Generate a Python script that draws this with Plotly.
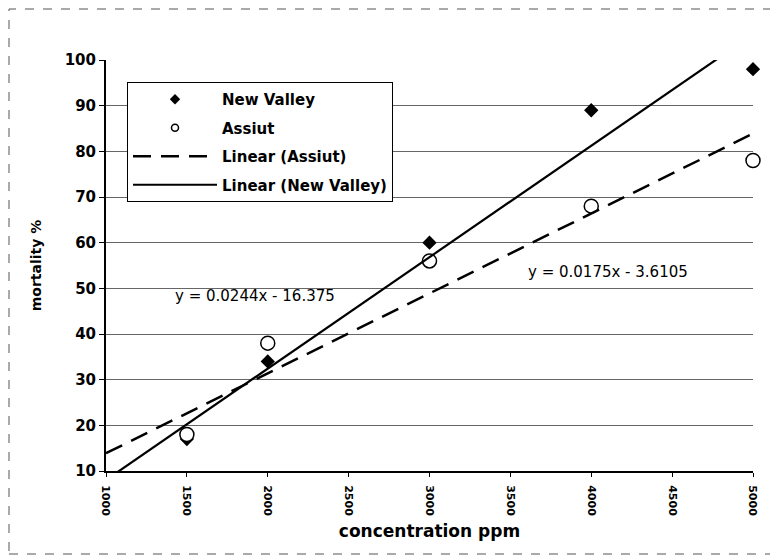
import plotly.graph_objects as go

conc = [1500, 2000, 3000, 4000, 5000]
new_valley = [17, 34, 60, 89, 98]
assiut = [18, 38, 56, 68, 78]

# trendline coefficients (slope, intercept) as printed on the chart
nv_fit = (0.0244, -16.375)
as_fit = (0.0175, -3.6105)
fit_x = [1000, 5000]

x_ticks = [1000, 1500, 2000, 2500, 3000, 3500, 4000, 4500, 5000]
y_ticks = [10, 20, 30, 40, 50, 60, 70, 80, 90, 100]

FONT = "DejaVu Sans"

fig = go.Figure()
# data traces (legend shown via small-marker proxies below)
fig.add_trace(go.Scatter(
    x=conc, y=new_valley, mode="markers", showlegend=False,
    marker=dict(symbol="diamond", size=11, color="black"), cliponaxis=False))
fig.add_trace(go.Scatter(
    x=conc, y=assiut, mode="markers", showlegend=False,
    marker=dict(symbol="circle", size=14, color="white", line=dict(color="black", width=1.5)),
    cliponaxis=False))
fig.add_trace(go.Scatter(
    x=fit_x, y=[as_fit[0] * v + as_fit[1] for v in fit_x], mode="lines",
    name="<b>Linear (Assiut)</b>", line=dict(color="black", width=2.5, dash="18px,10px"),
    legendgroup="c", legendrank=3))
fig.add_trace(go.Scatter(
    x=fit_x, y=[nv_fit[0] * v + nv_fit[1] for v in fit_x], mode="lines",
    name="<b>Linear (New Valley)</b>", line=dict(color="black", width=2.2),
    legendgroup="d", legendrank=4))
fig.add_trace(go.Scatter(
    x=[None], y=[None], mode="markers", name="<b>New Valley</b>",
    marker=dict(symbol="diamond", size=8, color="black"),
    legendgroup="a", legendrank=1))
fig.add_trace(go.Scatter(
    x=[None], y=[None], mode="markers", name="<b>Assiut</b>",
    marker=dict(symbol="circle", size=7, color="white", line=dict(color="black", width=1.5)),
    legendgroup="b", legendrank=2))

fig.add_annotation(x=1921, y=48.3, text="y = 0.0244x - 16.375", showarrow=False,
                   font=dict(family=FONT, size=15, color="black"))
fig.add_annotation(x=4104, y=53.6, text="y = 0.0175x - 3.6105", showarrow=False,
                   font=dict(family=FONT, size=15, color="black"))

# page has an 8px body margin, so the figure is 770x550 placed at (8, 8)
W, H = 770, 550
ml, mr, mt, mb = 98, 25, 52, 87
pw, ph = W - ml - mr, H - mt - mb

fig.add_shape(type="rect", xref="paper", yref="paper",
              x0=(1 - ml) / pw, x1=(767 - ml) / pw,
              y0=(H - mb - 546) / ph, y1=(H - mb - 1) / ph,
              line=dict(color="#555", width=1, dash="dash"))

fig.update_layout(
    width=W, height=H,
    margin=dict(l=ml, r=mr, t=mt, b=mb),
    paper_bgcolor="white", plot_bgcolor="white",
    showlegend=True,
    legend=dict(x=(127 - 106) / pw, y=(H - mb - 74) / ph, xanchor="left", yanchor="top",
                bordercolor="black", borderwidth=1, bgcolor="white",
                font=dict(family=FONT, size=15, color="black"),
                tracegroupgap=6, itemwidth=84),
    xaxis=dict(range=[1000, 5000], tickvals=x_ticks, ticktext=["<b>%d</b>" % t for t in x_ticks],
               tickangle=90, showgrid=False, zeroline=False,
               showline=True, linecolor="black", linewidth=2,
               ticks="outside", ticklen=4, tickcolor="black", ticklabelstandoff=6,
               tickfont=dict(family=FONT, size=11, color="black"),
               title=dict(text="<b>concentration ppm</b>",
                          font=dict(family=FONT, size=17, color="black"),
                          standoff=10)),
    yaxis=dict(range=[10, 100], tickvals=y_ticks, ticktext=["<b>%d</b>" % t for t in y_ticks],
               showgrid=True, gridcolor="#666", gridwidth=1, zeroline=False,
               showline=True, linecolor="black", linewidth=2,
               ticks="outside", ticklen=5, tickcolor="black",
               tickfont=dict(family=FONT, size=15, color="black"),
               title=dict(text="<b>mortality %</b>",
                          font=dict(family=FONT, size=14, color="black"),
                          standoff=20)),
)

fig.write_html("out.html")
